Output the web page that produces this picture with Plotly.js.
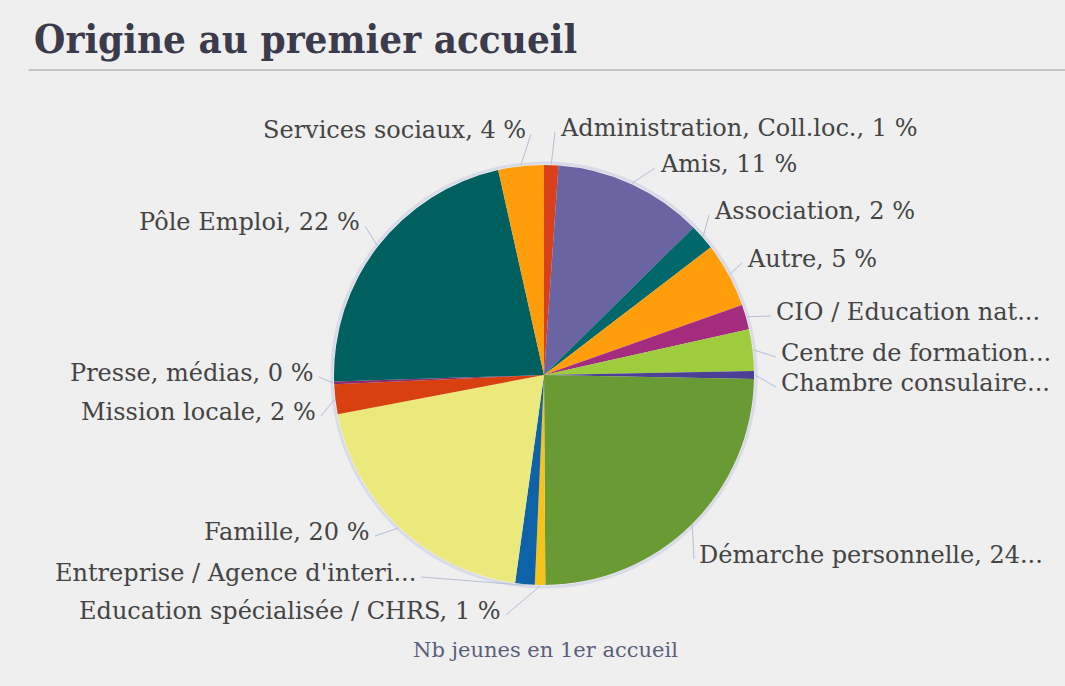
<!DOCTYPE html>
<html>
<head>
<meta charset="utf-8">
<script src="https://cdn.plot.ly/plotly-3.0.1.min.js"></script>
<style>
html,body{margin:0;padding:0;background:#efefef;}
#chart{width:1065px;height:686px;}
</style>
</head>
<body>
<div id="chart"></div>
<script>
// Categories (clockwise from 12 o'clock)
const categories = [
  "Administration, Coll.loc.",
  "Amis",
  "Association",
  "Autre",
  "CIO / Education nationale",
  "Centre de formation",
  "Chambre consulaire",
  "Démarche personnelle",
  "Education spécialisée / CHRS",
  "Entreprise / Agence d'intérim",
  "Famille",
  "Mission locale",
  "Presse, médias",
  "Pôle Emploi",
  "Services sociaux"
];
// Share of young people at first reception (%)
const values = [1.1, 11.5, 2.0, 5.0, 1.9, 3.2, 0.6, 24.6, 0.8, 1.5, 19.8, 2.3, 0.2, 22.0, 3.5];
// Labels as displayed (truncated like the original)
const displayLabels = [
  "Administration, Coll.loc., 1 %",
  "Amis, 11 %",
  "Association, 2 %",
  "Autre, 5 %",
  "CIO / Education nat...",
  "Centre de formation...",
  "Chambre consulaire...",
  "Démarche personnelle, 24...",
  "Education spécialisée / CHRS, 1 %",
  "Entreprise / Agence d'interi...",
  "Famille, 20 %",
  "Mission locale, 2 %",
  "Presse, médias, 0 %",
  "Pôle Emploi, 22 %",
  "Services sociaux, 4 %"
];
const colors = ["#d9401a","#6a64a2","#00686a","#ff9e0a","#a42c7e","#9dcc3d","#4b3f96",
                "#6a9a34","#f6c21c","#0d62a8","#ece97c","#d9400f","#8a2b6b","#005f5f","#ff9e0a"];

// ---- layout (positions only, in pixels) ----
const W = 1065, H = 686;
const pieDomain = {x: [0.3127, 0.7089], y: [0.1472, 0.7595]};
// label placement: [x, y(center), anchor]
const labelPlacement = [
  [558, 128, "left"],
  [658, 164, "left"],
  [712, 211, "left"],
  [745, 259, "left"],
  [774, 312, "left"],
  [779, 353, "left"],
  [779, 383, "left"],
  [697, 555, "left"],
  [503, 611, "right"],
  [418, 573, "right"],
  [372, 532, "right"],
  [318, 412, "right"],
  [316, 373, "right"],
  [362, 222, "right"],
  [528, 130, "right"]
];

const cx = W * (pieDomain.x[0] + pieDomain.x[1]) / 2;
const cy = H * (1 - (pieDomain.y[0] + pieDomain.y[1]) / 2);
const R = Math.min(W * (pieDomain.x[1] - pieDomain.x[0]), H * (pieDomain.y[1] - pieDomain.y[0])) / 2;
const total = values.reduce((a, b) => a + b, 0);

const annotations = [];
const shapes = [
  {type: "line", xref: "paper", yref: "paper", x0: 0.027, x1: 1, y0: 0.898, y1: 0.898,
   line: {color: "#c4c4c4", width: 2}},
  {type: "circle", xref: "paper", yref: "paper", layer: "below",
   x0: (cx - R - 2) / W, x1: (cx + R + 2) / W, y0: 1 - (cy + R + 2) / H, y1: 1 - (cy - R - 2) / H,
   line: {color: "#d9dce8", width: 3}, fillcolor: "rgba(0,0,0,0)"}
];
let cum = 0;
values.forEach((v, i) => {
  const th = 2 * Math.PI * (cum + v / 2) / total;
  cum += v;
  const ex = cx + (R + 1) * Math.sin(th), ey = cy - (R + 1) * Math.cos(th);
  const [lx, ly, anc] = labelPlacement[i];
  const tx = anc === "left" ? lx - 3 : lx + 3;
  shapes.push({type: "line", xref: "paper", yref: "paper",
    x0: ex / W, y0: 1 - ey / H, x1: tx / W, y1: 1 - (ly + 4) / H,
    line: {color: "#b7bfd6", width: 1}});
  annotations.push({text: displayLabels[i], xref: "paper", yref: "paper",
    x: lx / W, y: 1 - ly / H, xanchor: anc, yanchor: "middle", showarrow: false,
    font: {family: "DejaVu Serif", size: 24, color: "#444444"}});
});
annotations.push({text: "Nb jeunes en 1er accueil", xref: "paper", yref: "paper",
  x: 545 / W, y: 1 - 650 / H, xanchor: "center", yanchor: "middle", showarrow: false,
  font: {family: "DejaVu Serif", size: 21, color: "#5a5f7a"}});

const trace = {
  type: "pie",
  labels: categories,
  values: values,
  textinfo: "none",
  sort: false,
  direction: "clockwise",
  rotation: 0,
  marker: {colors: colors, line: {width: 0}},
  domain: pieDomain,
  automargin: false,
  hoverinfo: "label+percent"
};

const layout = {
  width: W, height: H,
  margin: {l: 0, r: 0, t: 0, b: 0},
  paper_bgcolor: "#efefef",
  plot_bgcolor: "#efefef",
  showlegend: false,
  title: {
    text: "<b>Origine au premier accueil</b>",
    x: 0.032, xanchor: "left", y: 0.943, yanchor: "middle",
    font: {family: "DejaVu Serif Condensed, DejaVu Serif", size: 40, color: "#3b3b4b"}
  },
  shapes: shapes,
  annotations: annotations
};

Plotly.newPlot("chart", [trace], layout, {displayModeBar: false, staticPlot: true});
</script>
</body>
</html>
